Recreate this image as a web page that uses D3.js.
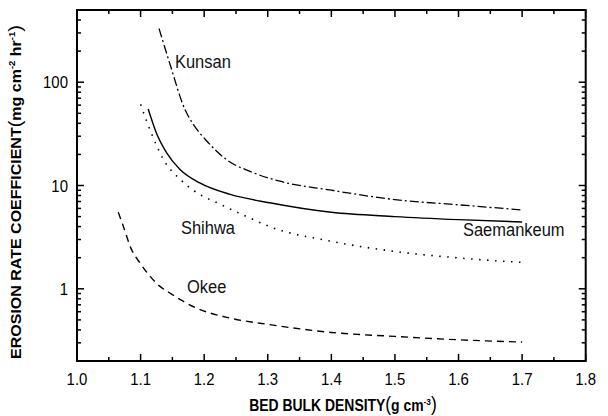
<!DOCTYPE html>
<html><head><meta charset="utf-8">
<script src="https://cdn.jsdelivr.net/npm/d3@7"></script>
<style>html,body{margin:0;padding:0;background:#fff}svg{display:block}</style>
</head><body>
<svg id="chart" width="608" height="416"></svg>
<script>
// ---- data ----
const kunsanX = [1.129, 1.146, 1.170, 1.183, 1.204, 1.235, 1.272, 1.319, 1.40, 1.50, 1.60, 1.70];
const kunsanY = [331, 151, 54, 39, 27, 17.8, 13.7, 11.0, 9.0, 7.3, 6.5, 5.8];
const saemX = [1.112, 1.125, 1.141, 1.162, 1.193, 1.241, 1.303, 1.40, 1.50, 1.60, 1.70];
const saemY = [55, 32, 20.7, 14.3, 10.6, 8.2, 6.8, 5.5, 5.0, 4.67, 4.43];
const shihwaX = [1.100, 1.117, 1.136, 1.162, 1.185, 1.225, 1.267, 1.303, 1.40, 1.50, 1.60, 1.70];
const shihwaY = [61, 32, 17.8, 11.5, 8.8, 6.6, 5.0, 4.0, 2.88, 2.30, 1.99, 1.80];
const okeeX = [1.065, 1.073, 1.086, 1.099, 1.115, 1.131, 1.146, 1.188, 1.241, 1.303, 1.40, 1.50, 1.60, 1.70];
const okeeY = [5.5, 4.0, 2.38, 1.78, 1.32, 1.05, 0.91, 0.65, 0.52, 0.45, 0.378, 0.346, 0.321, 0.305];
const seriesNames = ["Kunsan", "Saemankeum", "Shihwa", "Okee"];
const xTickValues = [1.0, 1.1, 1.2, 1.3, 1.4, 1.5, 1.6, 1.7, 1.8];
const yTickValues = [1, 10, 100];
const xDomain = [1.0, 1.8];
const yDomain = [0.2, 500];

// ---- layout ----
const L = 77, R = 585.7, T = 10, B = 361;
const SX = 0.88; // horizontal squeeze of the reference glyphs
const svg = d3.select("#chart");
const x = d3.scaleLinear().domain(xDomain).range([L, R]);
const y = d3.scaleLog().domain(yDomain).range([B, T]);
const fontF = "Arial, 'Liberation Sans', Helvetica, sans-serif";

// minor ticks
const xMinor = d3.range(0, 8).map(i => +(xDomain[0] + 0.05 + i * 0.1).toFixed(2));
const yMinor = [];
[0.1, 1, 10, 100].forEach(d => { for (let k = 2; k <= 9; k++) { const v = +(d * k).toPrecision(3); if (v > yDomain[0] && v < yDomain[1]) yMinor.push(v); } });

const tickG = svg.append("g").attr("stroke", "#000").attr("stroke-width", 1.5);
xTickValues.forEach(v => {
  tickG.append("line").attr("x1", x(v)).attr("x2", x(v)).attr("y1", B).attr("y2", B - 7);
  tickG.append("line").attr("x1", x(v)).attr("x2", x(v)).attr("y1", T).attr("y2", T + 7);
});
xMinor.forEach(v => {
  tickG.append("line").attr("x1", x(v)).attr("x2", x(v)).attr("y1", B).attr("y2", B - 4);
  tickG.append("line").attr("x1", x(v)).attr("x2", x(v)).attr("y1", T).attr("y2", T + 4);
});
yTickValues.forEach(v => {
  tickG.append("line").attr("x1", L).attr("x2", L + 7).attr("y1", y(v)).attr("y2", y(v));
  tickG.append("line").attr("x1", R).attr("x2", R - 7).attr("y1", y(v)).attr("y2", y(v));
});
yMinor.forEach(v => {
  tickG.append("line").attr("x1", L).attr("x2", L + 4).attr("y1", y(v)).attr("y2", y(v));
  tickG.append("line").attr("x1", R).attr("x2", R - 4).attr("y1", y(v)).attr("y2", y(v));
});

// frame
svg.append("rect").attr("x", L).attr("y", T).attr("width", R - L).attr("height", B - T)
  .attr("fill", "none").attr("stroke", "#000").attr("stroke-width", 2);

// tick labels
svg.append("g").selectAll("text").data(xTickValues).join("text")
  .attr("transform", d => `translate(${x(d)},384.5) scale(${SX},1)`).attr("text-anchor", "middle")
  .attr("font-family", fontF).attr("font-size", 17).text(d => d.toFixed(1));
svg.append("g").selectAll("text").data(yTickValues).join("text")
  .attr("transform", d => `translate(68,${y(d) + 6.1}) scale(${SX},1)`).attr("text-anchor", "end")
  .attr("font-family", fontF).attr("font-size", 17).text(d => d3.format("d")(d));

// curves
const line = d3.line().x(d => x(d[0])).y(d => y(d[1])).curve(d3.curveMonotoneX);
const zip = (a, b) => a.map((v, i) => [v, b[i]]);
const curves = [
  { pts: zip(kunsanX, kunsanY), dash: "9,3,2,3", w: 1.3 },
  { pts: zip(saemX, saemY), dash: null, w: 1.4 },
  { pts: zip(shihwaX, shihwaY), dash: "1.5,6.5", w: 1.6 },
  { pts: zip(okeeX, okeeY), dash: "7,5", w: 1.4 }
];
svg.append("g").selectAll("path").data(curves).join("path")
  .attr("d", d => line(d.pts)).attr("fill", "none").attr("stroke", "#000")
  .attr("stroke-width", d => d.w).attr("stroke-dasharray", d => d.dash);

// series labels
const labelPos = [[175, 68], [463, 236], [181, 234], [187, 293]];
svg.append("g").selectAll("text").data(seriesNames).join("text")
  .attr("transform", (d, i) => `translate(${labelPos[i][0]},${labelPos[i][1]}) scale(0.9,1)`)
  .attr("font-family", fontF).attr("font-size", 18.3).attr("fill", "#111").text(d => d);

// axis titles
const xt = svg.append("text").attr("transform", `translate(343,411) scale(0.87,1)`).attr("text-anchor", "middle")
  .attr("font-family", fontF).attr("font-size", 16).attr("font-weight", "bold");
xt.append("tspan").text("BED BULK DENSITY");
xt.append("tspan").attr("font-weight", "normal").attr("font-size", 20).text("(");
xt.append("tspan").text("g cm");
xt.append("tspan").attr("font-size", 9.5).attr("dy", -6.5).text("-3");
xt.append("tspan").attr("font-weight", "normal").attr("font-size", 20).attr("dy", 6.5).text(")");

const yt = svg.append("text").attr("transform", `translate(21,192) scale(${SX},1) rotate(-90)`).attr("text-anchor", "middle")
  .attr("font-family", fontF).attr("font-size", 16).attr("font-weight", "bold");
yt.append("tspan").text("EROSION RATE COEFFICIENT");
yt.append("tspan").attr("font-weight", "normal").attr("font-size", 20).text("(");
yt.append("tspan").text("mg cm");
yt.append("tspan").attr("font-size", 9.5).attr("dy", -6.5).text("-2");
yt.append("tspan").attr("dy", 6.5).text(" hr");
yt.append("tspan").attr("font-size", 9.5).attr("dy", -6.5).text("-1");
yt.append("tspan").attr("font-weight", "normal").attr("font-size", 20).attr("dy", 6.5).text(")");
</script>
</body></html>
